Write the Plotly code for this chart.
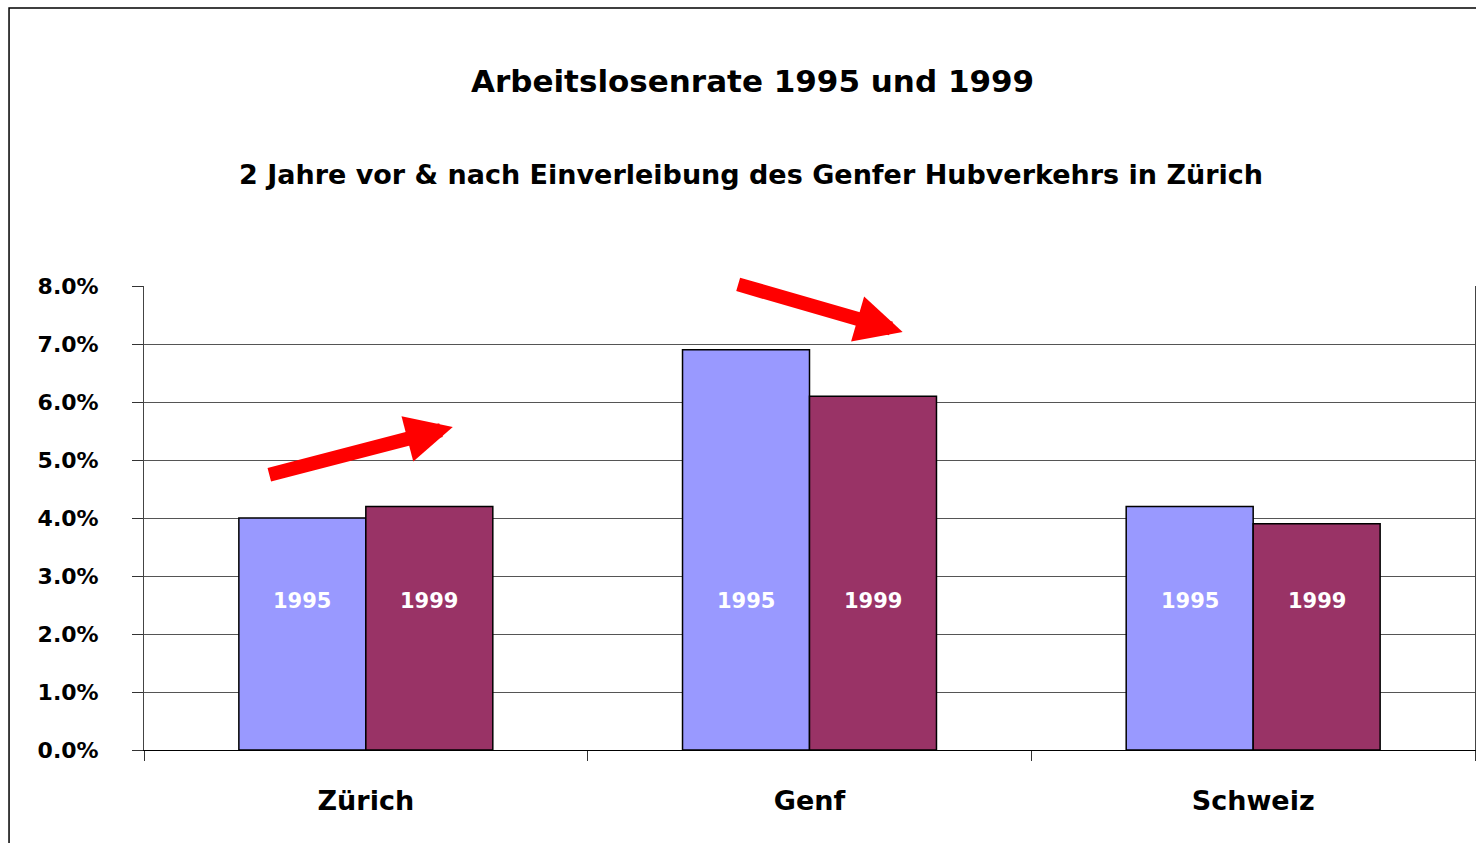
import plotly.graph_objects as go

categories = ["Zürich", "Genf", "Schweiz"]
years = ["1995", "1999"]
rate_1995 = [4.0, 6.9, 4.2]
rate_1999 = [4.2, 6.1, 3.9]
colors = ["#9999FF", "#993366"]
y_ticks = [0, 1, 2, 3, 4, 5, 6, 7, 8]
y_tick_labels = ["0.0%", "1.0%", "2.0%", "3.0%", "4.0%", "5.0%", "6.0%", "7.0%", "8.0%"]

FONT = "DejaVu Sans"

fig = go.Figure()
for name, vals, col in zip(years, [rate_1995, rate_1999], colors):
    fig.add_trace(go.Bar(
        x=categories, y=vals, name=name,
        marker=dict(color=col, line=dict(color="#000000", width=1.5)),
        showlegend=False, hoverinfo="x+y",
    ))

annotations = []
# in-bar year labels
for cat in categories:
    for name, shift in zip(years, [-63.5, 63.5]):
        annotations.append(dict(
            x=cat, y=2.57, xref="x", yref="y", xshift=shift,
            text=f"<b>{name}</b>", showarrow=False,
            font=dict(family=FONT, size=21, color="white"),
        ))

# titles
annotations.append(dict(
    x=0.457, y=1.442, xref="paper", yref="paper",
    text="<b>Arbeitslosenrate 1995 und 1999</b>", showarrow=False,
    font=dict(family=FONT, size=31, color="black"), yanchor="middle",
))
annotations.append(dict(
    x=0.456, y=1.241, xref="paper", yref="paper",
    text="<b>2 Jahre vor &amp; nach Einverleibung des Genfer Hubverkehrs in Zürich</b>",
    showarrow=False,
    font=dict(family=FONT, size=27, color="black"), yanchor="middle",
))

# red arrows
annotations.append(dict(
    x=0.232, y=0.696, xref="paper", yref="paper", text="",
    showarrow=True, ax=-185, ay=48, arrowhead=2, arrowwidth=14,
    arrowsize=0.67, arrowcolor="#FF0000",
))
annotations.append(dict(
    x=0.570, y=0.901, xref="paper", yref="paper", text="",
    showarrow=True, ax=-166, ay=-48, arrowhead=2, arrowwidth=14,
    arrowsize=0.67, arrowcolor="#FF0000",
))

fig.update_layout(
    width=1476, height=843,
    margin=dict(l=144, r=1, t=286, b=93),
    paper_bgcolor="white", plot_bgcolor="white",
    barmode="group", bargap=0.4276, bargroupgap=0,
    annotations=annotations,
    shapes=[dict(
        type="rect", xref="paper", yref="paper",
        x0=-0.1014, x1=1.05, y0=-0.4, y1=1.599,
        line=dict(color="#000000", width=1.5), fillcolor="rgba(0,0,0,0)",
        layer="above",
    )],
    xaxis=dict(
        type="category", tickson="boundaries", ticks="outside", ticklen=10,
        tickcolor="#333333", showline=True, linecolor="#000000", linewidth=1,
        showgrid=False, ticklabelstandoff=27,
        tickfont=dict(family=FONT, size=27, color="black", weight="bold"),
        fixedrange=True,
    ),
    yaxis=dict(
        range=[0, 8], tickvals=y_ticks, ticktext=y_tick_labels,
        ticks="outside", ticklen=11, tickcolor="#333333",
        showline=True, linecolor="#444444", linewidth=1, mirror=True,
        showgrid=True, gridcolor="#555555", gridwidth=1, zeroline=False,
        ticklabelstandoff=29,
        tickfont=dict(family=FONT, size=22, color="black", weight="bold"),
        fixedrange=True,
    ),
)

fig.write_html(
    "out.html",
    config={"responsive": False, "displayModeBar": False},
    post_script="document.body.style.margin='0';document.body.style.overflow='hidden';",
)
